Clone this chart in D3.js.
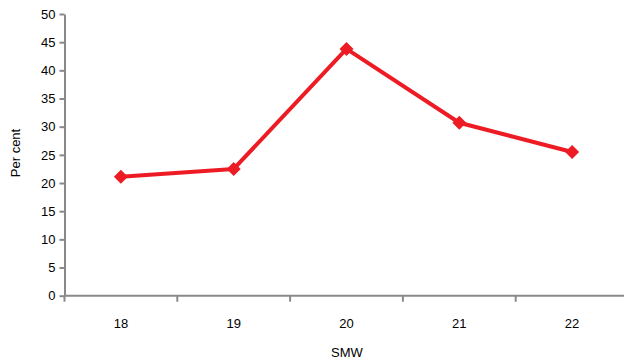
<!DOCTYPE html>
<html>
<head>
<meta charset="utf-8">
<script src="https://cdn.jsdelivr.net/npm/d3@7"></script>
<style>
  html, body { margin: 0; padding: 0; background: #fff; }
  svg { display: block; }
  text { font-family: "Liberation Sans", Arial, sans-serif; fill: #000; }
</style>
</head>
<body>
<script>
// Weekly percentages by standard meteorological week
const weeks = ["18", "19", "20", "21", "22"];
const perCent = [21.1, 22.5, 43.8, 30.7, 25.5];
const yTicks = [0, 5, 10, 15, 20, 25, 30, 35, 40, 45, 50];

const W = 624, H = 361;
const plotLeft = 64.5, plotTop = 14, plotBottom = 295.7, plotRight = 628.5;

const svg = d3.select("body").append("svg")
  .attr("width", W).attr("height", H);

const x = d3.scaleBand().domain(weeks).range([plotLeft, plotRight]).padding(0);
const y = d3.scaleLinear().domain([0, 50]).range([plotBottom, plotTop]);

const axisColor = "#898989";

// Y axis
const yAxis = svg.append("g")
  .attr("transform", `translate(${plotLeft},0)`)
  .call(d3.axisLeft(y).tickValues(yTicks).tickSize(5).tickPadding(4).tickSizeOuter(0));
yAxis.select(".domain").attr("stroke", axisColor).attr("stroke-width", 2);
yAxis.selectAll(".tick line").attr("stroke", axisColor).attr("stroke-width", 2);
yAxis.selectAll(".tick text").style("font-size", "13px").attr("fill", "#000");

// X axis with ticks on category boundaries
const xAxis = svg.append("g")
  .attr("transform", `translate(0,${plotBottom})`);
xAxis.append("line")
  .attr("x1", plotLeft).attr("x2", plotRight)
  .attr("stroke", axisColor).attr("stroke-width", 2);
const boundaries = weeks.map(w => x(w)).concat([x(weeks[weeks.length - 1]) + x.bandwidth()]);
xAxis.selectAll("line.tk").data(boundaries).join("line")
  .attr("class", "tk")
  .attr("x1", d => d).attr("x2", d => d)
  .attr("y1", 0).attr("y2", 6)
  .attr("stroke", axisColor).attr("stroke-width", 2);
xAxis.selectAll("text").data(weeks).join("text")
  .attr("x", d => x(d) + x.bandwidth() / 2)
  .attr("y", 32)
  .attr("text-anchor", "middle")
  .style("font-size", "13px")
  .text(d => d);

// Axis titles
svg.append("text")
  .attr("x", 347).attr("y", 357)
  .attr("text-anchor", "middle")
  .style("font-size", "13px")
  .text("SMW");
svg.append("text")
  .attr("transform", `translate(20,153) rotate(-90)`)
  .attr("text-anchor", "middle")
  .style("font-size", "13px")
  .text("Per cent");

// Line series
const cx = (d, i) => x(weeks[i]) + x.bandwidth() / 2;
const red = "#ED1C24";
svg.append("path")
  .datum(perCent)
  .attr("fill", "none")
  .attr("stroke", red)
  .attr("stroke-width", 4)
  .attr("stroke-linejoin", "round")
  .attr("d", d3.line().x(cx).y(d => y(d)));

// Diamond markers
svg.selectAll("path.marker").data(perCent).join("path")
  .attr("class", "marker")
  .attr("fill", red)
  .attr("transform", (d, i) => `translate(${cx(d, i)},${y(d)})`)
  .attr("d", "M0,-7 L7,0 L0,7 L-7,0 Z");
</script>
</body>
</html>
